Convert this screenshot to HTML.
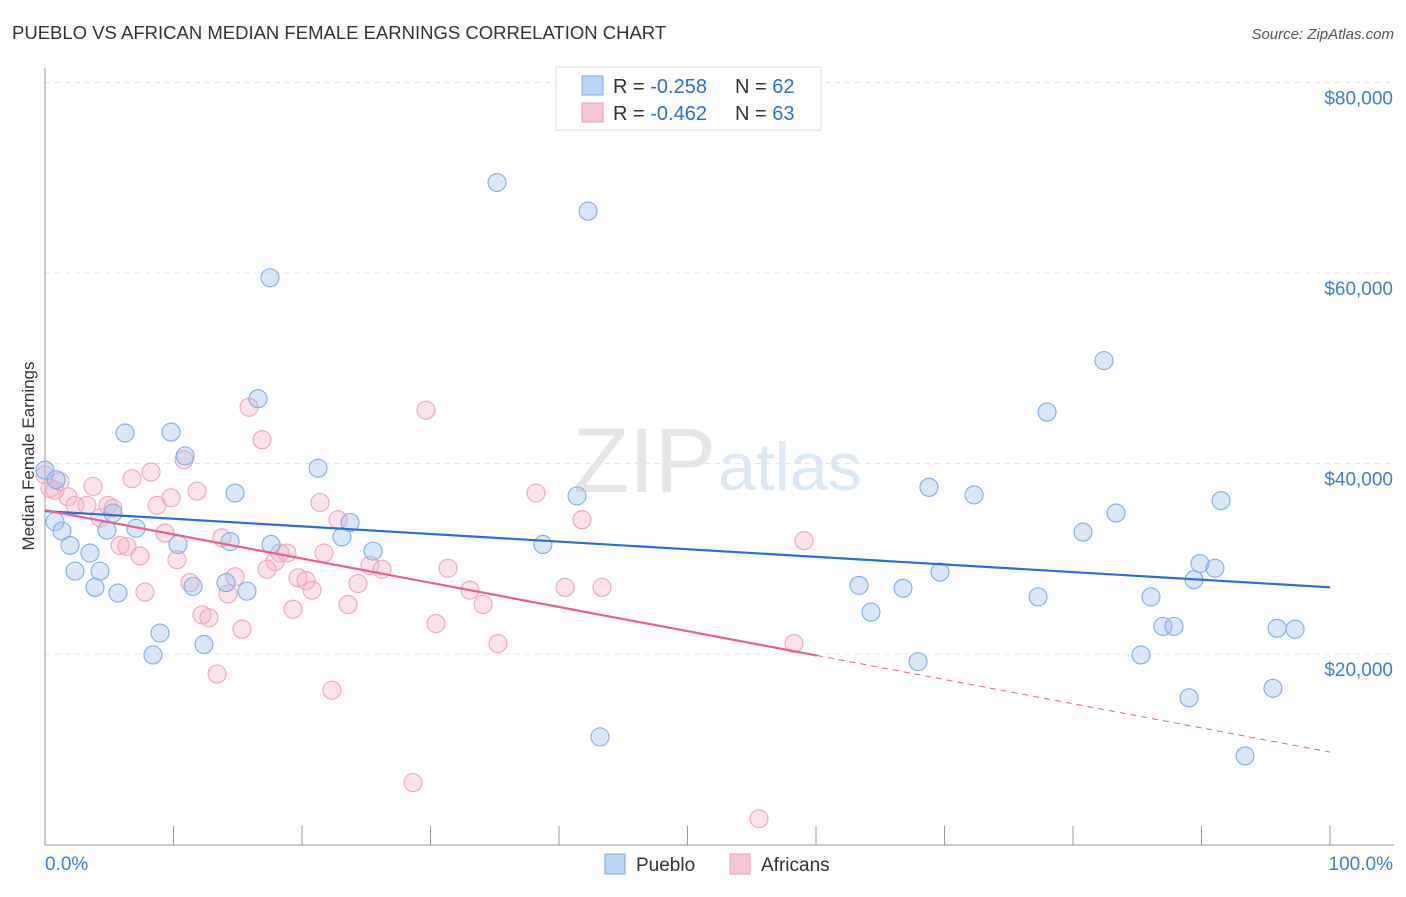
<!DOCTYPE html>
<html><head><meta charset="utf-8"><style>
body{margin:0;background:#fff;font-family:"Liberation Sans",sans-serif;}
svg text{font-family:"Liberation Sans",sans-serif;}
</style></head><body>
<svg id="chart" width="1406" height="892" xmlns="http://www.w3.org/2000/svg">
<text x="12" y="39" font-size="18.5" fill="#333">PUEBLO VS AFRICAN MEDIAN FEMALE EARNINGS CORRELATION CHART</text>
<text x="1394" y="39" font-size="15" fill="#555" text-anchor="end" font-style="italic">Source: ZipAtlas.com</text>
<text x="34" y="456" font-size="17" fill="#333" text-anchor="middle" transform="rotate(-90 34 456)">Median Female Earnings</text>
<text x="716" y="492" font-size="92" fill="#e6e6e6" text-anchor="end" font-family="Liberation Serif">ZIP</text>
<text x="718" y="490" font-size="68" fill="#dce8f6">atlas</text>
<g id="grid"></g><g id="axes"></g><g id="points"></g><g id="trends"></g>
<g>
<rect x="556" y="67" width="265" height="63" fill="#fff" stroke="#ddd"/>
<rect x="582" y="76" width="21" height="19" fill="#b9d3f5" stroke="#7aa8e6"/>
<rect x="582" y="103" width="21" height="19" fill="#f8c6d5" stroke="#ee9fb8"/>
<text x="613" y="93" font-size="20" fill="#333">R = <tspan fill="#2a6fd6">-0.258</tspan></text>
<text x="735" y="93" font-size="20" fill="#333">N = <tspan fill="#2a6fd6">62</tspan></text>
<text x="613" y="120" font-size="20" fill="#333">R = <tspan fill="#2a6fd6">-0.462</tspan></text>
<text x="735" y="120" font-size="20" fill="#333">N = <tspan fill="#2a6fd6">63</tspan></text>
</g>
<g>
<rect x="605" y="854" width="20" height="20" fill="#b9d3f5" stroke="#7aa8e6"/>
<text x="636" y="871" font-size="19" fill="#333">Pueblo</text>
<rect x="730" y="854" width="20" height="20" fill="#f8c6d5" stroke="#ee9fb8"/>
<text x="761" y="871" font-size="19" fill="#333">Africans</text>
</g>
</svg>
<script>
const yTicks=[20000,40000,60000,80000];
const yTickLabels=["$20,000","$40,000","$60,000","$80,000"];
const xTickLabels=["0.0%","100.0%"];
const puebloX=[0,0.78,1.32,1.95,2.33,3.5,3.89,4.28,4.82,5.29,5.68,6.23,7.08,8.4,8.95,9.81,10.35,10.9,11.52,12.37,14.09,14.4,14.79,15.72,16.58,17.51,17.59,21.25,23.11,23.74,25.53,35.18,38.75,41.4,42.26,43.19,63.35,64.28,66.77,67.94,68.79,69.65,72.3,77.28,77.98,80.78,82.41,83.35,85.29,86.07,87.0,87.86,89.03,89.42,89.88,91.05,91.52,93.39,95.56,95.88,97.28,0.86];
const puebloY=[39.3,33.9,32.9,31.4,28.7,30.6,27.0,28.7,33.0,34.8,26.4,43.2,33.2,19.9,22.2,43.3,31.5,40.8,27.1,21.0,27.5,31.8,36.9,26.6,46.8,59.5,31.5,39.5,32.3,33.8,30.8,69.5,31.5,36.6,66.5,11.3,27.2,24.4,26.9,19.2,37.5,28.6,36.7,26.0,45.4,32.8,50.8,34.8,19.9,26.0,22.9,22.9,15.4,27.8,29.5,29.0,36.1,9.3,16.4,22.7,22.6,38.3];
const africansX=[0,0.39,0.78,1.17,1.79,2.33,3.27,3.74,4.28,4.9,5.29,5.84,6.38,6.77,7.39,7.78,8.25,8.72,9.34,9.81,10.27,10.82,11.28,11.83,12.22,12.76,13.39,13.77,14.24,14.79,15.33,15.88,16.89,17.28,17.9,18.29,18.83,19.3,19.69,20.31,20.78,21.4,21.71,22.33,22.8,23.58,24.36,25.29,26.23,28.64,29.65,30.43,31.36,33.07,34.09,35.25,38.21,40.47,41.79,43.35,55.56,58.29,59.07];
const africansY=[38.8,37.4,37.2,38.1,36.5,35.6,35.6,37.6,34.3,35.6,35.3,31.4,31.3,38.4,30.3,26.5,39.1,35.6,32.7,36.4,29.9,40.4,27.5,37.1,24.1,23.8,17.9,32.2,26.3,28.1,22.6,45.9,42.5,28.9,29.7,30.6,30.6,24.7,28.0,27.7,26.7,35.9,30.6,16.2,34.1,25.2,27.4,29.3,28.9,6.5,45.6,23.2,29.0,26.7,25.2,21.1,36.9,27.0,34.1,27.0,2.7,21.1,31.9];
const puebloTrend=[35.0,27.0];
const africansTrend=[35.1,9.7];
const africansSolidEnd=60.08;
const NS='http://www.w3.org/2000/svg';
const sx=p=>45+p*12.85;
const sy=v=>844.5-v*9.525;
function mk(tag,attrs,parent){const e=document.createElementNS(NS,tag);for(const k in attrs)e.setAttribute(k,attrs[k]);parent.appendChild(e);return e;}
const gGrid=document.getElementById('grid'),gAxes=document.getElementById('axes'),gPts=document.getElementById('points'),gTr=document.getElementById('trends');
yTicks.forEach((t,i)=>{
 const y=sy(t/1000);
 const l=mk('line',{x1:45,x2:1394,y1:y,y2:y,stroke:'#e4e4e4','stroke-dasharray':'5,5'},gGrid);
 
 
 const tx=mk('text',{x:1393,y:y+22,'font-size':19,fill:'#3b7dd8','text-anchor':'end'},gAxes);
 tx.textContent=yTickLabels[i];
 
 
});
const ax=mk('line',{x1:45,x2:45,y1:68,y2:845,stroke:'#999'},gAxes);


const bx=mk('line',{x1:45,x2:1394,y1:845,y2:845,stroke:'#999'},gAxes);


for(let i=0;i<=10;i++){const x=sx(i*10);
 const tk=mk('line',{x1:x,x2:x,y1:826,y2:845,stroke:'#999'},gAxes);
 
 }
const xl0=mk('text',{x:45,y:870,'font-size':19,fill:'#3b7dd8'},gAxes);xl0.textContent=xTickLabels[0];


const xl1=mk('text',{x:1393,y:870,'font-size':19,fill:'#3b7dd8','text-anchor':'end'},gAxes);xl1.textContent=xTickLabels[1];


function series(X,Y,fill,stroke,name){X.forEach((x,i)=>{
 const c=mk('circle',{cx:sx(x),cy:sy(Y[i]),r:9,fill:fill,stroke:stroke,'stroke-width':1.1},gPts);
 
 });}
series(africansX,africansY,'rgba(246,176,198,0.35)','#eea6bd','africans-point');
series(puebloX,puebloY,'rgba(160,196,240,0.4)','#80ade8','pueblo-point');
const l1=mk('line',{x1:sx(0),y1:sy(puebloTrend[0]),x2:sx(100),y2:sy(puebloTrend[1]),stroke:'#2a6fd6','stroke-width':2.2},gTr);


const am=(africansTrend[1]-africansTrend[0])/100;
const ya=africansTrend[0]+am*africansSolidEnd;
const l2=mk('line',{x1:sx(0),y1:sy(africansTrend[0]),x2:sx(africansSolidEnd),y2:sy(ya),stroke:'#e8608e','stroke-width':2.2},gTr);


const l3=mk('line',{x1:sx(africansSolidEnd),y1:sy(ya),x2:sx(100),y2:sy(africansTrend[1]),stroke:'#e8608e','stroke-width':1,'stroke-dasharray':'6,5'},gTr);


</script>
</body></html>
